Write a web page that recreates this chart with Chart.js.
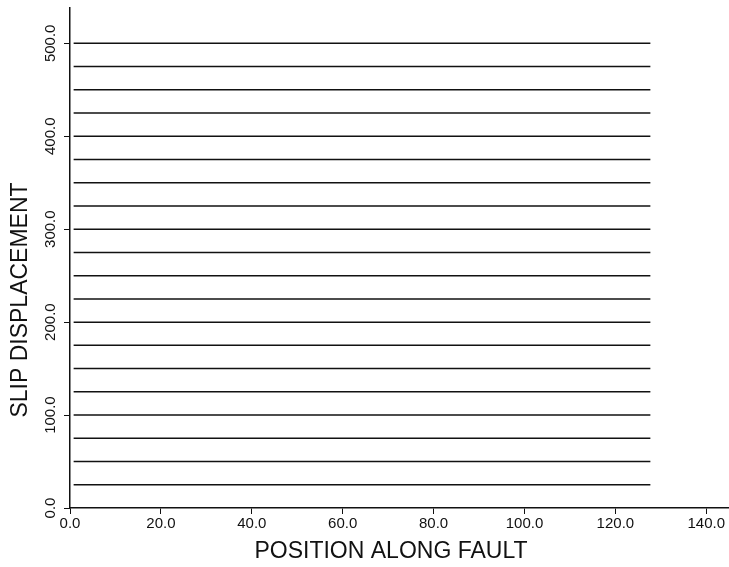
<!DOCTYPE html>
<html lang="en">
<head>
  <meta charset="UTF-8" />
  <title>Slip Displacement</title>
  <script src="https://cdn.jsdelivr.net/npm/chart.js"></script>
  <style>
    body { margin: 0; background: #fff; }
    canvas { display: block; }
  </style>
</head>
<body>
  <canvas id="slipChart" width="729" height="567"></canvas>

  <script>
    // slip levels (one horizontal line each)
    const slipLevels = [25, 50, 75, 100, 125, 150, 175, 200, 225, 250,
                        275, 300, 325, 350, 375, 400, 425, 450, 475, 500];
    // position along fault where each line starts / ends
    const faultStart = 0.8;
    const faultEnd = 127.7;
    const xTicks = [0, 20, 40, 60, 80, 100, 120, 140];
    const yTicks = [0, 100, 200, 300, 400, 500];

    const fontFamily = '"Liberation Sans", Arial, Helvetica, sans-serif';
    const ink = '#111';

    const datasets = slipLevels.map(v => ({
      data: [{ x: faultStart, y: v }, { x: faultEnd, y: v }],
      borderColor: ink,
      borderWidth: 1.5,
      pointRadius: 0,
      fill: false
    }));

    // axis titles drawn by hand so they sit where the original put them
    const axisTitles = {
      id: 'axisTitles',
      afterDraw(chart) {
        const ctx = chart.ctx;
        ctx.save();
        ctx.fillStyle = ink;
        ctx.font = '23px ' + fontFamily;
        ctx.textAlign = 'center';
        ctx.textBaseline = 'middle';
        ctx.fillText('POSITION ALONG FAULT', 391, 552);
        ctx.translate(21, 300);
        ctx.rotate(-Math.PI / 2);
        ctx.fillText('SLIP DISPLACEMENT', 0, 0);
        ctx.restore();
      }
    };

    new Chart(document.getElementById('slipChart'), {
      type: 'line',
      data: { datasets },
      plugins: [axisTitles],
      options: {
        responsive: false,
        animation: false,
        layout: { padding: { top: 8, right: 0, left: 0, bottom: 0 } },
        plugins: { legend: { display: false }, tooltip: { enabled: false } },
        scales: {
          x: {
            type: 'linear',
            min: 0,
            max: 145,
            afterFit: s => { s.height = 59; },
            afterBuildTicks: s => { s.ticks = xTicks.map(v => ({ value: v })); },
            grid: { drawOnChartArea: false, tickLength: 6, color: ink, tickWidth: 1 },
            border: { color: ink, width: 1.5 },
            ticks: {
              color: ink,
              padding: 1,
              maxRotation: 0,
              font: { family: fontFamily, size: 15 },
              callback: v => v.toFixed(1)
            }
          },
          y: {
            type: 'linear',
            min: 0,
            max: 538,
            afterFit: s => { s.width = 70; },
            afterBuildTicks: s => { s.ticks = yTicks.map(v => ({ value: v })); },
            grid: { drawOnChartArea: false, tickLength: 6, color: ink, tickWidth: 1 },
            border: { color: ink, width: 1.5 },
            ticks: {
              color: ink,
              padding: -6,
              minRotation: 90,
              maxRotation: 90,
              crossAlign: 'center',
              font: { family: fontFamily, size: 15 },
              callback: v => v.toFixed(1)
            }
          }
        }
      }
    });
  </script>
</body>
</html>
